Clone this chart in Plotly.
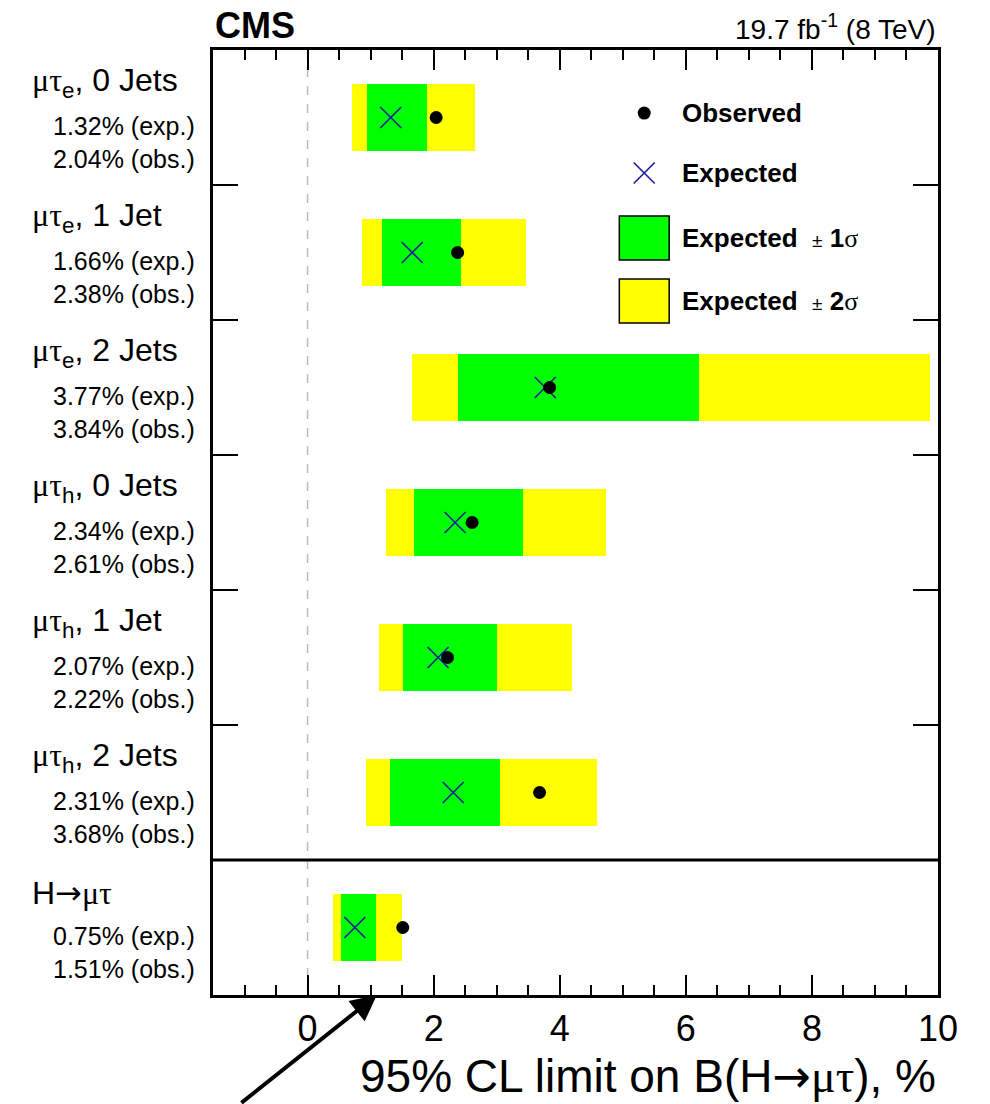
import plotly.graph_objects as go

# Channels, top to bottom
channels = ["μτ_e, 0 Jets", "μτ_e, 1 Jet", "μτ_e, 2 Jets",
            "μτ_h, 0 Jets", "μτ_h, 1 Jet", "μτ_h, 2 Jets", "H→μτ"]
GREEK = "<span style='font-family:Liberation Serif'>μτ</span>"
ARROW = "<span style='font-family:DejaVu Sans'>→</span>"
channel_labels = [
    f"{GREEK}<sub>e</sub>, 0 Jets",
    f"{GREEK}<sub>e</sub>, 1 Jet",
    f"{GREEK}<sub>e</sub>, 2 Jets",
    f"{GREEK}<sub>h</sub>, 0 Jets",
    f"{GREEK}<sub>h</sub>, 1 Jet",
    f"{GREEK}<sub>h</sub>, 2 Jets",
    f"H{ARROW}{GREEK}",
]

# 95% CL limits on B(H->mu tau), in %
expected = [1.32, 1.66, 3.77, 2.34, 2.07, 2.31, 0.75]
observed = [2.04, 2.38, 3.84, 2.61, 2.22, 3.68, 1.51]
exp_minus2 = [0.70, 0.86, 1.65, 1.24, 1.13, 0.93, 0.40]
exp_minus1 = [0.94, 1.18, 2.39, 1.69, 1.51, 1.31, 0.53]
exp_plus1 = [1.90, 2.44, 6.21, 3.41, 3.01, 3.05, 1.08]
exp_plus2 = [2.65, 3.47, 9.87, 4.74, 4.19, 4.59, 1.49]

x_tick_vals = [0, 2, 4, 6, 8, 10]

n = len(channels)
row_y = [n - 0.5 - i for i in range(n)]

SANS = "Liberation Sans"
GREEN = "#00ff00"
YELLOW = "#ffff00"
BLUE = "#1c1c9c"

fig = go.Figure()

# +-2 sigma band
fig.add_trace(go.Bar(
    orientation="h", y=row_y, base=exp_minus2,
    x=[hi - lo for lo, hi in zip(exp_minus2, exp_plus2)],
    width=0.5, marker=dict(color=YELLOW, line=dict(width=0)),
    showlegend=False, hoverinfo="skip"))
# +-1 sigma band
fig.add_trace(go.Bar(
    orientation="h", y=row_y, base=exp_minus1,
    x=[hi - lo for lo, hi in zip(exp_minus1, exp_plus1)],
    width=0.5, marker=dict(color=GREEN, line=dict(width=0)),
    showlegend=False, hoverinfo="skip"))
# expected limits
fig.add_trace(go.Scatter(
    x=expected, y=row_y, mode="markers",
    marker=dict(symbol="x-thin", size=21, line=dict(color=BLUE, width=1.6)),
    showlegend=False))
# observed limits
fig.add_trace(go.Scatter(
    x=observed, y=row_y, mode="markers",
    marker=dict(symbol="circle", size=13, color="black", line=dict(width=0)),
    showlegend=False))

# ---- hand-drawn legend (data coordinates) ----
LEG_MARK_X = 5.34
LEG_TEXT_X = 5.90
leg_rows = [6.533, 6.089, 5.607, 5.141]
fig.add_trace(go.Scatter(
    x=[LEG_MARK_X], y=[leg_rows[0]], mode="markers",
    marker=dict(symbol="circle", size=13, color="black"), showlegend=False))
fig.add_trace(go.Scatter(
    x=[LEG_MARK_X], y=[leg_rows[1]], mode="markers",
    marker=dict(symbol="x-thin", size=21, line=dict(color=BLUE, width=1.6)),
    showlegend=False))

shapes = []
for yc, col in [(leg_rows[2], GREEN), (leg_rows[3], YELLOW)]:
    shapes.append(dict(type="rect", xref="x", yref="y",
                       x0=4.945, x1=5.736, y0=yc - 0.163, y1=yc + 0.163,
                       fillcolor=col, line=dict(color="black", width=1.5)))

SIGMA = "<span style='font-family:Liberation Serif'>σ</span>"
PM = "<span style='font-size:19px'>±</span>"
leg_texts = [
    "<b>Observed</b>",
    "<b>Expected</b>",
    f"<b>Expected</b>&nbsp; {PM}&nbsp;<b>1</b>{SIGMA}",
    f"<b>Expected</b>&nbsp; {PM}&nbsp;<b>2</b>{SIGMA}",
]
annotations = []
for yc, t in zip(leg_rows, leg_texts):
    annotations.append(dict(x=LEG_TEXT_X, y=yc, xref="x", yref="y", text=t,
                            showarrow=False, xanchor="left", yanchor="middle",
                            font=dict(family=SANS, size=26, color="black")))

# zero reference line
shapes.append(dict(type="line", xref="x", yref="y", x0=0, x1=0, y0=0, y1=n,
                   line=dict(color="#bdbdbd", width=1.5, dash="dash"), layer="below"))
# separator between the channels and the combination
shapes.append(dict(type="line", xref="x", yref="y", x0=-1.5, x1=10, y0=1, y1=1,
                   line=dict(color="black", width=3)))

# channel labels on the left
for yc, lab, e, o in zip(row_y, channel_labels, expected, observed):
    annotations.append(dict(x=-0.2524, y=yc, xref="paper", yref="y", text=lab,
                            showarrow=False, xanchor="left", yanchor="middle",
                            yshift=35, font=dict(family=SANS, size=32, color="black")))
    annotations.append(dict(x=-0.0221, y=yc, xref="paper", yref="y",
                            text=f"{e:.2f}% (exp.)",
                            showarrow=False, xanchor="right", yanchor="middle",
                            yshift=-8, font=dict(family=SANS, size=25, color="black")))
    annotations.append(dict(x=-0.0221, y=yc, xref="paper", yref="y",
                            text=f"{o:.2f}% (obs.)",
                            showarrow=False, xanchor="right", yanchor="middle",
                            yshift=-41, font=dict(family=SANS, size=25, color="black")))

# header texts
annotations.append(dict(x=0, y=1, xref="paper", yref="paper", text="<b>CMS</b>",
                        showarrow=False, xanchor="left", yanchor="bottom", yshift=2,
                        font=dict(family=SANS, size=36, color="black")))
annotations.append(dict(x=1, y=1, xref="paper", yref="paper",
                        text="19.7 fb<sup>-1</sup> (8 TeV)",
                        showarrow=False, xanchor="right", yanchor="bottom", yshift=3,
                        font=dict(family=SANS, size=28, color="black")))
# axis title
annotations.append(dict(x=1, y=0, xref="paper", yref="paper",
                        text=f"95% CL limit on B(H{ARROW}{GREEK}), %",
                        showarrow=False, xanchor="right", yanchor="top", yshift=-52,
                        font=dict(family=SANS, size=46, color="black")))
# arrow pointing at the axis
annotations.append(dict(x=1.1, y=0, xref="x", yref="y", text="",
                        showarrow=True, ax=-137, ay=109, axref="pixel", ayref="pixel",
                        arrowhead=2, arrowsize=1.3, arrowwidth=4, arrowcolor="black"))

fig.update_layout(
    width=990, height=1104,
    margin=dict(l=213, r=52, t=50, b=109),
    paper_bgcolor="white", plot_bgcolor="white",
    barmode="overlay", bargap=0,
    shapes=shapes, annotations=annotations,
    font=dict(family=SANS, color="black"),
    showlegend=False,
)
fig.update_xaxes(
    range=[-1.5, 10], tickvals=x_tick_vals, ticks="inside", ticklen=20, tickwidth=1.5,
    tickcolor="black", minor=dict(dtick=0.5, tick0=0, ticks="inside", ticklen=10,
                                  tickwidth=1.5, tickcolor="black", showgrid=False),
    showline=True, linewidth=3, linecolor="black", mirror="ticks",
    showgrid=False, zeroline=False,
    tickfont=dict(family=SANS, size=36, color="black"),
)
fig.update_yaxes(
    range=[0, n], tickvals=[2, 3, 4, 5, 6], ticks="inside", ticklen=25, tickwidth=1.5,
    tickcolor="black", showticklabels=False,
    showline=True, linewidth=3, linecolor="black", mirror="ticks",
    showgrid=False, zeroline=False,
)

fig.write_html("out.html")
